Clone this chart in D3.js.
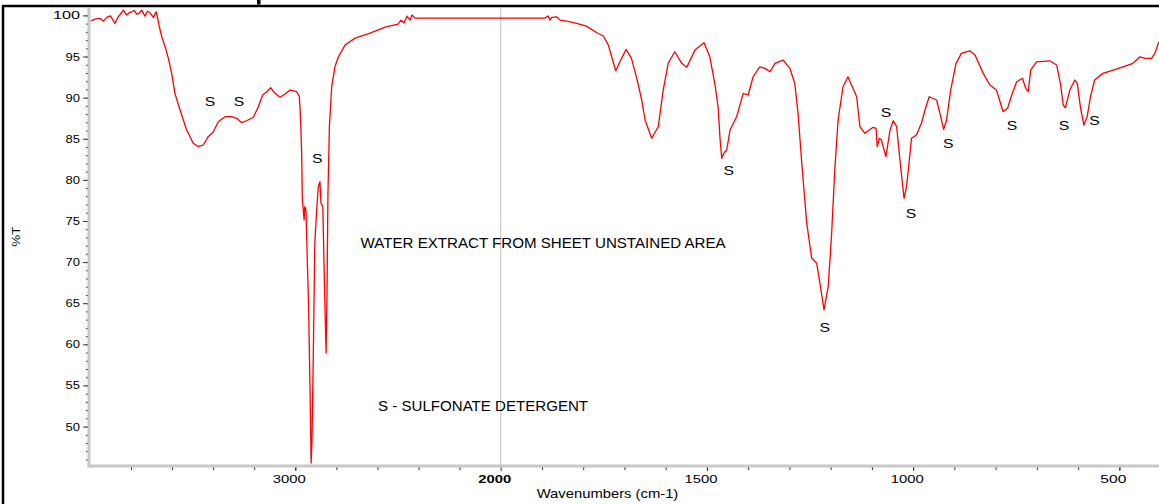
<!DOCTYPE html>
<html>
<head>
<meta charset="utf-8">
<script src="https://cdn.jsdelivr.net/npm/d3@7"></script>
<style>
  body { margin: 0; background: #fff; }
  svg { display: block; }
  text { font-family: "Liberation Sans", Arial, sans-serif; fill: #000; }
</style>
</head>
<body>
<svg id="ir-spectrum"></svg>
<script>
// spectrum (wavenumber cm-1 -> %T)
const wavenumbers = [
  3995, 3975, 3951, 3935, 3918, 3900, 3878, 3862, 3850, 3837, 3821, 3810, 3796, 3785, 3772,
  3760, 3748, 3732, 3720, 3707, 3698, 3691, 3678, 3670,
  3662, 3650, 3629, 3618, 3602, 3586, 3561, 3529, 3497, 3472, 3448, 3424, 3399, 3375, 3342,
  3310, 3285, 3261, 3237, 3204, 3180, 3159, 3139, 3120, 3099, 3074, 3050, 3026, 2993, 2980,
  2974, 2969, 2966, 2957, 2954, 2948, 2944, 2935, 2928, 2923, 2919, 2912, 2905, 2896, 2888,
  2880, 2875, 2866, 2860, 2854, 2850, 2846, 2841, 2834, 2823, 2807, 2790, 2758, 2709, 2636,
  2563, 2500, 2485, 2471, 2456, 2441, 2432, 2417,
  1893, 1885, 1881, 1876, 1864, 1856, 1840, 1816, 1792, 1767, 1751, 1739, 1731, 1721, 1711,
  1696, 1683, 1670, 1658, 1650, 1634, 1618, 1606, 1594, 1578, 1561, 1549, 1529, 1507, 1493,
  1481, 1473, 1468, 1464, 1459, 1452, 1444, 1428, 1412, 1400, 1388, 1372, 1359, 1347, 1335,
  1315, 1299, 1287, 1279, 1270, 1258, 1246, 1234, 1226, 1216, 1206, 1198, 1190, 1182, 1170,
  1158, 1137, 1129, 1117, 1097, 1090, 1087, 1082, 1077, 1066, 1056, 1048, 1040, 1032, 1026,
  1022, 1016, 1010, 1004, 992, 980, 969, 961, 943, 935, 926, 919, 909, 896, 883,
  863, 850, 830, 814, 798, 782, 771, 761, 749, 735, 727, 721, 715, 701, 669,
  652, 643, 636, 631, 620, 608, 602, 594, 586, 578, 570, 560, 540, 515, 491,
  467, 450, 438, 422, 414, 404
];
const transmittance = [
  99.34, 99.55, 99.64, 99.30, 99.76, 99.95, 99.03, 99.83, 100.20, 100.64, 100.04, 100.30, 100.44, 100.60, 100.16,
  100.25, 100.64, 99.91, 100.50, 100.32, 100.00, 99.76, 100.44, 99.64,
  98.62, 97.40, 95.78, 94.77, 92.95, 90.52, 88.49, 86.06, 84.45, 84.03, 84.24, 85.25, 85.86, 87.07, 87.68,
  87.68, 87.48, 86.95, 87.19, 87.61, 88.90, 90.32, 90.72, 91.20, 90.52, 90.04, 90.44, 90.92, 90.72, 90.11,
  87.07, 83.23, 77.76, 75.13, 76.74, 76.34, 72.49, 64.19, 54.07, 45.56, 48.03, 59.33, 72.30, 76.34, 79.17,
  79.78, 77.16, 76.74, 69.45, 62.97, 58.93, 65.41, 78.37, 86.46, 91.32, 93.75, 94.97, 96.39, 97.24, 97.85,
  98.58, 98.94, 99.43, 99.07, 99.91, 99.43, 100.04, 99.67,
  99.67, 99.92, 99.43, 99.76, 99.83, 99.43, 99.31, 99.03, 98.70, 97.89, 97.49, 96.39, 94.97, 93.27, 94.36,
  95.87, 94.77, 92.35, 89.71, 87.28, 85.06, 86.46, 90.92, 94.17, 95.58, 94.17, 93.68, 95.78, 96.67, 94.97,
  91.74, 88.89, 84.85, 82.62, 83.23, 83.63, 86.06, 87.68, 90.52, 90.32, 92.54, 93.75, 93.56, 93.15, 94.17,
  94.57, 93.56, 91.74, 88.09, 82.02, 74.73, 70.47, 69.87, 67.43, 64.19, 67.02, 73.10, 81.20, 87.28, 91.32,
  92.54, 90.11, 86.46, 85.66, 86.39, 86.27, 84.03, 85.05, 84.85, 82.82, 86.06, 87.19, 86.46, 82.42, 79.59,
  77.76, 79.17, 82.02, 85.05, 85.46, 86.88, 88.89, 90.11, 89.71, 88.09, 86.15, 87.28, 90.92, 94.17, 95.38,
  95.70, 95.18, 92.95, 91.53, 90.92, 88.29, 88.70, 90.32, 91.93, 92.35, 91.13, 90.72, 93.35, 94.36, 94.48,
  93.96, 91.74, 89.10, 88.77, 90.92, 92.14, 91.74, 88.70, 86.67, 87.68, 90.11, 92.14, 92.95, 93.35, 93.75,
  94.17, 94.97, 94.77, 94.77, 95.38, 96.79
];

// "S" markers (wavenumber, %T at the letter baseline)
const peakMarkWn = [3415, 3274, 2893, 1447, 1214, 1066, 1005, 915, 760, 634, 560];
const peakMarkT = [88.95, 88.95, 82.03, 80.65, 61.45, 87.62, 75.39, 83.90, 86.12, 86.12, 86.64];

const noteTexts = ["WATER EXTRACT FROM SHEET UNSTAINED AREA", "S - SULFONATE DETERGENT"];
const noteWn = [2682, 2597];
const noteT = [71.69, 51.83];

const xTickValues = [3000, 2000, 1500, 1000, 500];
const yTickValues = [50, 55, 60, 65, 70, 75, 80, 85, 90, 95, 100];

const width = 1159;
const height = 504;

const svg = d3.select("svg#ir-spectrum")
  .attr("width", width)
  .attr("height", height);

// x axis is expanded below 2000 cm-1, like the instrument printout
const x = d3.scaleLinear()
  .domain([4000, 2000, 400])
  .range([89.9, 500.7, 1160.6]);

const y = d3.scaleLinear()
  .domain([45.2, 100.9])
  .range([466, 8]);

// outer frame (cut by the window on the right and bottom)
svg.append("path")
  .attr("d", "M3,510V6H1170")
  .attr("fill", "none")
  .attr("stroke", "#000")
  .attr("stroke-width", 2.5);

// stub of something printed above the frame
svg.append("rect")
  .attr("x", 257)
  .attr("y", 0)
  .attr("width", 3.5)
  .attr("height", 4.5)
  .attr("fill", "#000");

// 2000 divider
svg.append("line")
  .attr("x1", x(2000)).attr("x2", x(2000))
  .attr("y1", y(100.9)).attr("y2", y(45.2))
  .attr("stroke", "#c8c8c8")
  .attr("stroke-width", 1.2);

// y minor ticks
const yMinor = svg.append("g")
  .attr("transform", "translate(89,0)")
  .call(d3.axisLeft(y).tickValues(d3.range(46, 101)).tickSize(3).tickFormat(""));
yMinor.select(".domain").remove();
yMinor.selectAll("line").attr("stroke", "#333");

const yAxis = svg.append("g")
  .attr("transform", "translate(89,0)")
  .call(d3.axisLeft(y).tickValues(yTickValues).tickSize(6).tickPadding(3).tickFormat(d3.format("d")));
yAxis.select(".domain").remove();
yAxis.selectAll("line").attr("stroke", "#333");
yAxis.selectAll("text")
  .attr("font-family", null)
  .style("font-size", "11px")
  .attr("textLength", d => d >= 100 ? 27 : 14.5)
  .attr("lengthAdjust", "spacingAndGlyphs");

// x minor ticks: every 200 above 2000, every 100 below
const xMinorValues = d3.range(3800, 2000, -200).concat(d3.range(1900, 400, -100));
const xMinor = svg.append("g")
  .attr("transform", "translate(0,466)")
  .call(d3.axisBottom(x).tickValues(xMinorValues).tickSize(4).tickFormat(""));
xMinor.select(".domain").remove();
xMinor.selectAll("line").attr("stroke", "#333");

const xAxis = svg.append("g")
  .attr("transform", "translate(0,466)")
  .call(d3.axisBottom(x).tickValues(xTickValues).tickSize(5).tickFormat(d3.format("d")));
xAxis.select(".domain").remove();
xAxis.selectAll("line").attr("stroke", "#333");
xAxis.selectAll("text")
  .attr("font-family", null)
  .attr("y", 17.3)
  .attr("dy", 0)
  .attr("dx", -6.5)
  .style("font-size", "11.5px")
  .style("font-weight", d => d === 2000 ? "bold" : "normal")
  .attr("textLength", d => d >= 1000 ? 33 : 26)
  .attr("lengthAdjust", "spacingAndGlyphs");

// grey axis bars
svg.append("line")
  .attr("x1", 89).attr("x2", 89)
  .attr("y1", y(100.9)).attr("y2", 467.5)
  .attr("stroke", "#c8c8c8")
  .attr("stroke-width", 3);
svg.append("line")
  .attr("x1", 87.5).attr("x2", width)
  .attr("y1", 466).attr("y2", 466)
  .attr("stroke", "#c8c8c8")
  .attr("stroke-width", 3);

// spectrum
const points = wavenumbers.map((wn, i) => [wn, transmittance[i]]);
const line = d3.line()
  .x(d => x(d[0]))
  .y(d => y(d[1]));

svg.append("path")
  .datum(points)
  .attr("d", line)
  .attr("fill", "none")
  .attr("stroke", "#ff0000")
  .attr("stroke-width", 1.3)
  .attr("stroke-linejoin", "round");

// S markers
svg.selectAll(".peak-mark")
  .data(peakMarkWn)
  .enter()
  .append("text")
  .attr("class", "peak-mark")
  .attr("x", d => x(d))
  .attr("y", (d, i) => y(peakMarkT[i]))
  .attr("text-anchor", "middle")
  .attr("textLength", 10.5)
  .attr("lengthAdjust", "spacingAndGlyphs")
  .style("font-size", "13px")
  .text("S");

// notes
svg.selectAll(".note")
  .data(noteTexts)
  .enter()
  .append("text")
  .attr("class", "note")
  .attr("x", (d, i) => x(noteWn[i]))
  .attr("y", (d, i) => y(noteT[i]))
  .attr("textLength", (d, i) => i === 0 ? 365 : 210)
  .attr("lengthAdjust", "spacingAndGlyphs")
  .style("font-size", (d, i) => i === 0 ? "15px" : "14px")
  .text(d => d);

// axis titles
svg.append("text")
  .attr("x", 607.5)
  .attr("y", 498.3)
  .attr("text-anchor", "middle")
  .attr("textLength", 141.6)
  .attr("lengthAdjust", "spacingAndGlyphs")
  .style("font-size", "13px")
  .text("Wavenumbers (cm-1)");

svg.append("text")
  .attr("transform", "translate(20,236.7) rotate(-90)")
  .attr("text-anchor", "middle")
  .attr("textLength", 20)
  .attr("lengthAdjust", "spacingAndGlyphs")
  .style("font-size", "11px")
  .text("%T");
</script>
</body>
</html>
